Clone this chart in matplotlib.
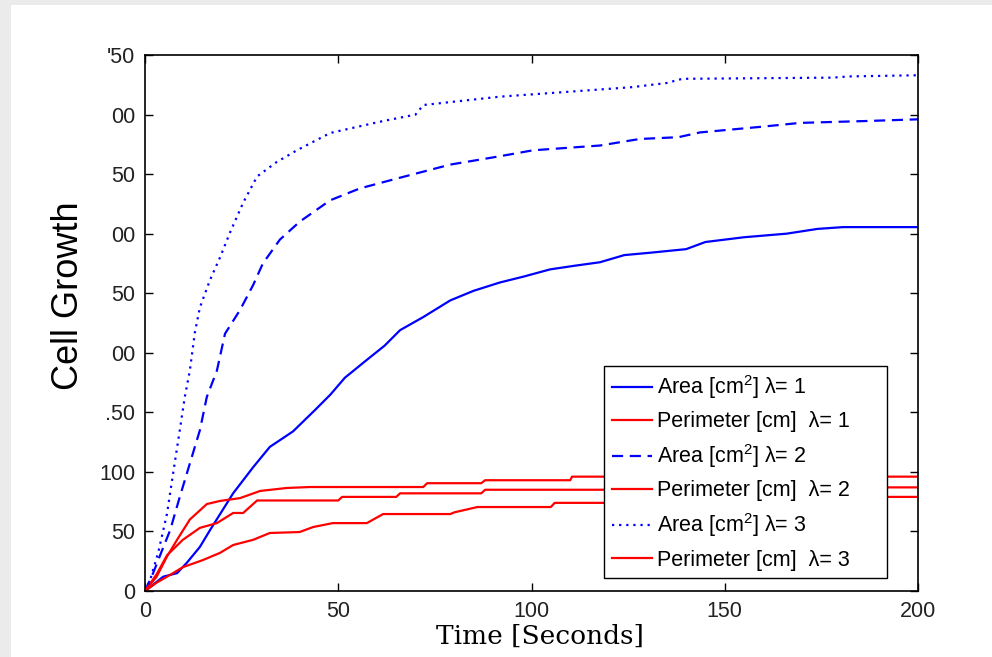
import matplotlib
matplotlib.use("Agg")
import matplotlib.pyplot as plt
from matplotlib.patches import Rectangle

plt.rcParams['font.family'] = ['Liberation Sans', 'DejaVu Sans']
plt.rcParams['mathtext.fontset'] = 'custom'
plt.rcParams['mathtext.rm'] = 'Liberation Sans'
plt.rcParams['mathtext.it'] = 'Liberation Sans:italic'

# readings (time in s, growth)
area1_t = [0, 2, 4.7, 8.3, 10.9, 14.2, 16.8, 22.8, 28, 32.3, 38.3, 44, 48, 51.7, 57, 62, 66,
           72, 79, 85, 91.8, 98, 104.8, 111, 117.7, 124, 130.7, 140, 145, 155, 166, 174,
           180.6, 190, 200]
area1_v = [0, 5, 12, 15, 24, 37, 51, 82, 104, 121, 134, 152, 165, 179, 193, 206, 219,
           230, 244, 252, 259, 264, 270, 273, 276, 282, 284, 287, 293, 297, 300, 304,
           305.5, 305.5, 305.5]

area2_t = [0, 2.1, 4.4, 6.5, 9, 11.6, 14.2, 16, 18.6, 20.7, 24.6, 28, 30.5, 34.9, 40, 47.9,
           55.6, 66, 79, 91.8, 100.4, 117.7, 128, 138, 143.6, 159, 169.5, 186.8, 200]
area2_v = [0, 15, 34, 51, 79, 107, 135, 163, 185, 216, 236, 257, 275, 295, 310, 328,
           338, 347, 358, 365, 370, 374, 379.5, 381, 385, 389.6, 393, 394.6, 396]

area3_t = [0, 1.3, 3.4, 5.7, 7, 9, 10.3, 11.6, 12.9, 14.2, 16.8, 19.4, 22, 25.4, 29, 34,
           39.3, 47.9, 60.8, 70, 72, 91.8, 109, 126, 135, 139, 178, 182, 200]
area3_v = [0, 9, 32, 65, 93, 135, 163, 185, 217, 238, 261, 280, 301, 326, 348, 360,
           370, 384.5, 394, 400, 408, 415, 419, 423, 426.5, 430, 431, 432, 433]

perim1_t = [0, 3, 5.7, 8.3, 11.6, 16, 19.4, 24.6, 29.8, 36.7, 42.7, 72, 73, 87, 88, 110,
            110.5, 200]
perim1_v = [0, 12, 29, 43, 60, 73, 75.6, 78, 84, 86.5, 87.3, 87.3, 90.5, 90.5, 93, 93,
            96, 96]

perim2_t = [0, 3, 5.7, 9.8, 14.2, 18.6, 22.8, 25.4, 29, 35, 50, 51, 65, 66, 87, 88, 140,
            141, 200]
perim2_v = [0, 14, 30, 43, 53, 57, 65.5, 65.5, 76, 76, 76, 79, 79, 82, 82, 85, 85, 87, 87]

perim3_t = [0, 3, 5.7, 9.8, 15, 19.4, 22.8, 28, 32.3, 40, 43.5, 48.6, 57.4, 61.6, 79, 80,
            86, 105, 106, 150, 151, 200]
perim3_v = [0, 7, 12, 20, 26, 32, 38.6, 43, 48.7, 49.5, 53.7, 57, 57, 64.6, 64.6, 66,
            70.5, 70.5, 74, 74, 79, 79]

x_ticks = [0, 50, 100, 150, 200]
y_ticks = [0, 50, 100, 150, 200, 250, 300, 350, 400, 450]
# the left digits of the y labels are cut off in the original
y_ticklabels = ['0', '50', '100', '.50', '00', '50', '00', '50', '00', "'50"]

fig = plt.figure(figsize=(9.92, 6.57), dpi=100)
fig.patch.set_facecolor('#ebebeb')
fig.patches.append(Rectangle((11 / 992, 0), 1, (657 - 5) / 657, transform=fig.transFigure,
                             facecolor='white', edgecolor='none', zorder=-1))

ax = fig.add_axes([145 / 992, 66 / 657, 773 / 992, 536 / 657])
lw = 1.6
ax.plot(area1_t, area1_v, color='#0000ff', lw=lw, label='Area [cm$^2$] λ= 1     ')
ax.plot(perim1_t, perim1_v, color='#ff0000', lw=lw, label='Perimeter [cm]  λ= 1     ')
ax.plot(area2_t, area2_v, color='#0000ff', lw=lw, ls=(0, (5, 3)), label='Area [cm$^2$] λ= 2')
ax.plot(perim2_t, perim2_v, color='#ff0000', lw=lw, label='Perimeter [cm]  λ= 2')
ax.plot(area3_t, area3_v, color='#0000ff', lw=1.6, ls=(0, (1, 2.2)), label='Area [cm$^2$] λ= 3')
ax.plot(perim3_t, perim3_v, color='#ff0000', lw=lw, label='Perimeter [cm]  λ= 3')

ax.set_xlim(0, 200)
ax.set_ylim(0, 450)
ax.set_xticks(x_ticks)
ax.set_yticks(y_ticks)
ax.set_yticklabels(y_ticklabels)
ax.tick_params(direction='in', length=6, width=1, top=True, right=True,
               labelsize=15.5, labelcolor='#222222', pad=7)
for s in ax.spines.values():
    s.set_linewidth(1.2)

leg = ax.legend(loc='lower right', bbox_to_anchor=(0.960, 0.024), fontsize=15.5,
                frameon=True, fancybox=False, framealpha=1, edgecolor='black',
                handlelength=1.9, handletextpad=0.2, labelspacing=0.47,
                borderpad=0.35, borderaxespad=0)
leg.get_frame().set_linewidth(1.0)

fig.text(68 / 992, 1 - 296 / 657, 'Cell Growth', rotation=90, fontsize=26,
         ha='center', va='center')
fig.text(540 / 992, 1 - 636 / 657, 'Time [Seconds]', family='DejaVu Serif', fontsize=19,
         ha='center', va='center')

fig.savefig('out.png', dpi=100, facecolor=fig.get_facecolor())
